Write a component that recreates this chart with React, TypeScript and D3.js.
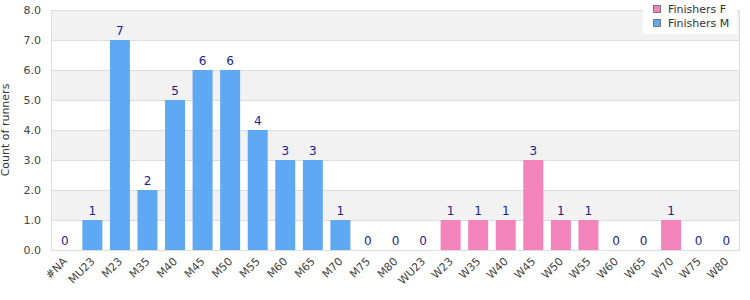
import React, { useRef, useEffect } from 'react';
import * as d3 from 'd3';

const categories = ['#NA', 'MU23', 'M23', 'M35', 'M40', 'M45', 'M50', 'M55', 'M60', 'M65', 'M70', 'M75', 'M80',
  'WU23', 'W23', 'W35', 'W40', 'W45', 'W50', 'W55', 'W60', 'W65', 'W70', 'W75', 'W80'];
// null = category belongs to the other series
const finishersM = [0, 1, 7, 2, 5, 6, 6, 4, 3, 3, 1, 0, 0,
  null, null, null, null, null, null, null, null, null, null, null, null];
const finishersF = [null, null, null, null, null, null, null, null, null, null, null, null, null,
  0, 1, 1, 1, 3, 1, 1, 0, 0, 1, 0, 0];
const yTicks = [0, 1, 2, 3, 4, 5, 6, 7, 8];
const seriesNames = ['Finishers F', 'Finishers M'];
const seriesColors = ['#f283bb', '#5fa8f4'];

const App = () => {
  const svgRef = useRef(null);

  useEffect(() => {
    const svgWidth = 750;
    const svgHeight = 300;
    const margin = { top: 10, right: 10, bottom: 50, left: 51 };
    const width = svgWidth - margin.left - margin.right;
    const height = svgHeight - margin.top - margin.bottom;
    const font = 'DejaVu Sans, Verdana, sans-serif';

    const svg = d3.select(svgRef.current);
    svg.selectAll('*').remove();

    const g = svg.append('g').attr('transform', `translate(${margin.left},${margin.top})`);

    const x = d3.scaleBand().domain(categories).range([0, width]).paddingInner(0.275).paddingOuter(0.1375);
    const y = d3.scaleLinear().domain([0, 8]).range([height, 0]);

    // alternating bands
    yTicks.slice(0, -1).forEach((t) => {
      if (t % 2 === 1) {
        g.append('rect')
          .attr('x', 0).attr('width', width)
          .attr('y', y(t + 1)).attr('height', y(t) - y(t + 1))
          .attr('fill', '#f2f2f2');
      }
    });

    g.selectAll('.grid')
      .data(yTicks)
      .enter()
      .append('line')
      .attr('x1', 0).attr('x2', width)
      .attr('y1', (d) => y(d) + 0.5).attr('y2', (d) => y(d) + 0.5)
      .attr('stroke', '#dddddd');

    g.append('line').attr('x1', 0.5).attr('x2', 0.5).attr('y1', 0).attr('y2', height).attr('stroke', '#dddddd');
    g.append('line').attr('x1', width - 0.5).attr('x2', width - 0.5).attr('y1', 0).attr('y2', height).attr('stroke', '#dddddd');

    const rows = categories.map((c, i) => {
      const m = finishersM[i];
      const f = finishersF[i];
      return m !== null ? { cat: c, value: m, color: seriesColors[1] } : { cat: c, value: f, color: seriesColors[0] };
    });

    g.selectAll('.bar')
      .data(rows)
      .enter()
      .append('rect')
      .attr('x', (d) => x(d.cat))
      .attr('width', x.bandwidth())
      .attr('y', (d) => y(d.value))
      .attr('height', (d) => y(0) - y(d.value))
      .attr('fill', (d) => d.color);

    g.selectAll('.val')
      .data(rows)
      .enter()
      .append('text')
      .attr('x', (d) => x(d.cat) + x.bandwidth() / 2)
      .attr('y', (d) => y(d.value) - 5)
      .attr('text-anchor', 'middle')
      .attr('font-family', font)
      .attr('font-size', 12)
      .attr('fill', '#1c1c8a')
      .text((d) => d.value);

    // y axis labels
    g.selectAll('.ytick')
      .data(yTicks)
      .enter()
      .append('text')
      .attr('x', -10)
      .attr('y', (d) => y(d) + 4)
      .attr('text-anchor', 'end')
      .attr('font-family', font)
      .attr('font-size', 11)
      .attr('fill', '#444444')
      .text((d) => d3.format('.1f')(d));

    // x axis labels
    g.selectAll('.xtick')
      .data(categories)
      .enter()
      .append('text')
      .attr('transform', (d) => `translate(${x(d) + x.bandwidth() / 2 + 3},${height + 12}) rotate(-45)`)
      .attr('text-anchor', 'end')
      .attr('font-family', font)
      .attr('font-size', 11)
      .attr('fill', '#444444')
      .text((d) => d);

    svg.append('text')
      .attr('transform', `translate(9,${margin.top + height / 2}) rotate(-90)`)
      .attr('text-anchor', 'middle')
      .attr('font-family', font)
      .attr('font-size', 11)
      .attr('fill', '#333333')
      .text('Count of runners');

    // legend
    const lg = svg.append('g').attr('transform', 'translate(643,0)');
    lg.append('rect').attr('width', 94).attr('height', 34).attr('fill', 'white');
    seriesNames.forEach((name, i) => {
      lg.append('rect')
        .attr('x', 10.5).attr('y', 5.5 + i * 14)
        .attr('width', 7).attr('height', 7)
        .attr('fill', seriesColors[i])
        .attr('stroke', '#777777');
      lg.append('text')
        .attr('x', 25).attr('y', 13 + i * 14)
        .attr('font-family', font)
        .attr('font-size', 11)
        .attr('fill', '#333333')
        .text(name);
    });
  }, []);

  return (
    <div>
      <svg ref={svgRef} width={750} height={300} style={{ position: 'absolute', left: 0, top: 0 }} />
    </div>
  );
};

export default App;
